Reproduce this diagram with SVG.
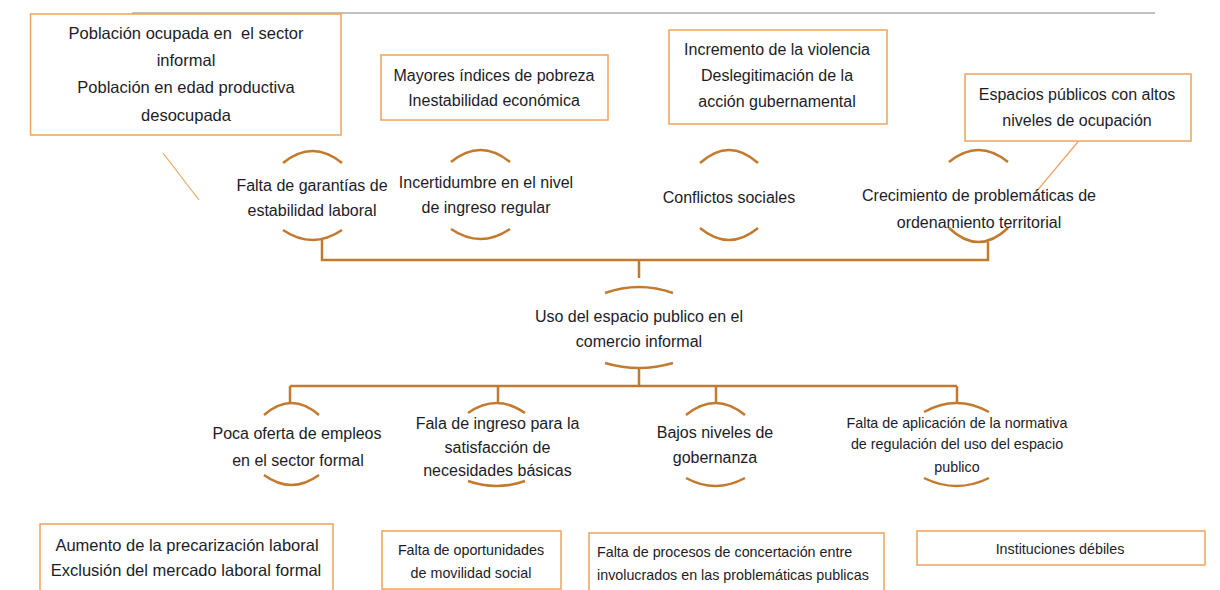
<svg xmlns="http://www.w3.org/2000/svg" width="1220" height="590" viewBox="0 0 1220 590">
<style>
text{font-family:"Liberation Sans",Arial,sans-serif;fill:#1c1c28;text-anchor:middle}
.m{font-size:16px}
.b{font-size:16.5px}
.s{font-size:14.3px}
.box{fill:#fff;stroke:#F0A35A;stroke-width:1.5}
.arc{fill:none;stroke:#C27A2E;stroke-width:2.5}
.con{fill:none;stroke:#C27A2E;stroke-width:2.5}
.thin{fill:none;stroke:#EFA462;stroke-width:1.2}
</style>
<rect width="1220" height="590" fill="#fff"/>
<line x1="132" y1="13" x2="1155" y2="13" stroke="#adadad" stroke-width="1.5"/>

<g id="connectors">
<polyline class="con" points="322,240 322,260 988,260 988,242"/>
<line class="con" x1="639" y1="260" x2="639" y2="278"/>
<line class="con" x1="639" y1="368" x2="639" y2="386"/>
<line class="con" x1="290" y1="386" x2="957" y2="386"/>
<line class="con" x1="290" y1="386" x2="290" y2="403"/>
<line class="con" x1="498" y1="386" x2="498" y2="403"/>
<line class="con" x1="716" y1="386" x2="716" y2="403"/>
<line class="con" x1="957" y1="386" x2="957" y2="403"/>
<line class="thin" x1="163" y1="153" x2="199" y2="200"/>
<line class="thin" x1="1082" y1="137" x2="1036" y2="192"/>
</g>

<g id="box-poblacion">
<rect class="box" x="30.5" y="14" width="310.5" height="121"/>
<text class="b" x="186" y="39" xml:space="preserve" style="white-space:pre">Población ocupada en  el sector</text>
<text class="b" x="186" y="66">informal</text>
<text class="b" x="186" y="93">Población en edad productiva</text>
<text class="b" x="186" y="121">desocupada</text>
</g>

<g id="box-pobreza">
<rect class="box" x="381" y="55" width="227" height="65"/>
<text class="m" x="494" y="81">Mayores índices de pobreza</text>
<text class="m" x="494" y="106">Inestabilidad económica</text>
</g>

<g id="box-violencia">
<rect class="box" x="669" y="30" width="218" height="94"/>
<text class="m" x="777" y="55">Incremento de la violencia</text>
<text class="m" x="777" y="81">Deslegitimación de la</text>
<text class="m" x="777" y="107">acción gubernamental</text>
</g>

<g id="box-espacios">
<rect class="box" x="965" y="74" width="226" height="67"/>
<text class="m" x="1077" y="100">Espacios públicos con altos</text>
<text class="m" x="1077" y="126">niveles de ocupación</text>
</g>

<g id="node-garantias">
<path class="arc" d="M283,163 Q312.5,139 342,163"/>
<path class="arc" d="M283,230 Q312.5,250 342,230"/>
<text class="m" x="312" y="191">Falta de garantías de</text>
<text class="m" x="312" y="216">estabilidad laboral</text>
</g>

<g id="node-incertidumbre">
<path class="arc" d="M451,162 Q480.5,138 510,162"/>
<path class="arc" d="M451,229 Q480.5,249 510,229"/>
<text class="m" x="486" y="188">Incertidumbre en el nivel</text>
<text class="m" x="486" y="213">de ingreso regular</text>
</g>

<g id="node-conflictos">
<path class="arc" d="M700,163 Q729,137 758,163"/>
<path class="arc" d="M700,228 Q729,252 758,228"/>
<text class="m" x="729" y="203">Conflictos sociales</text>
</g>

<g id="node-crecimiento">
<path class="arc" d="M949,162 Q978.5,138 1008,162"/>
<path class="arc" d="M949,228 Q978.5,256 1008,228"/>
<text class="m" x="979" y="201">Crecimiento de problemáticas de</text>
<text class="m" x="979" y="228">ordenamiento territorial</text>
</g>

<g id="node-uso">
<path class="arc" d="M605,293 Q639,281 673,293"/>
<path class="arc" d="M605,363 Q639,373 673,363"/>
<text class="m" x="639" y="322">Uso del espacio publico en el</text>
<text class="m" x="639" y="347">comercio informal</text>
</g>

<g id="node-oferta">
<path class="arc" d="M264,415 Q291.5,391 319,415"/>
<path class="arc" d="M264,475 Q291.5,495 319,475"/>
<text class="m" x="297" y="439">Poca oferta de empleos</text>
<text class="m" x="298" y="466">en el sector formal</text>
</g>

<g id="node-ingreso">
<path class="arc" d="M468,413 Q496.5,393 525,413"/>
<path class="arc" d="M468,481 Q496.5,491 525,481"/>
<text class="m" x="497.5" y="429">Fala de ingreso para la</text>
<text class="m" x="497.5" y="453">satisfacción de</text>
<text class="m" x="497.5" y="476">necesidades básicas</text>
</g>

<g id="node-gobernanza">
<path class="arc" d="M686,415 Q715.5,391 745,415"/>
<path class="arc" d="M686,478 Q715.5,494 745,478"/>
<text class="m" x="715" y="438">Bajos niveles de</text>
<text class="m" x="715" y="463">gobernanza</text>
</g>

<g id="node-normativa">
<path class="arc" d="M924,412 Q956.5,394 989,412"/>
<path class="arc" d="M924,478 Q956.5,494 989,478"/>
<text class="s" x="957" y="428">Falta de aplicación de la normativa</text>
<text class="s" x="957" y="449">de regulación del uso del espacio</text>
<text class="s" x="957" y="472">publico</text>
</g>

<g id="box-precarizacion">
<rect class="box" x="40" y="524" width="293" height="80"/>
<text class="b" x="187" y="551">Aumento de la precarización laboral</text>
<text class="b" x="186" y="576">Exclusión del mercado laboral formal</text>
</g>

<g id="box-movilidad">
<rect class="box" x="382" y="531" width="179" height="58"/>
<text class="s" x="471" y="555">Falta de oportunidades</text>
<text class="s" x="471" y="578">de movilidad social</text>
</g>

<g id="box-concertacion">
<rect class="box" x="589" y="533" width="295" height="70"/>
<text class="s" x="597" y="557" style="text-anchor:start">Falta de procesos de concertación entre</text>
<text class="s" x="597" y="580" style="text-anchor:start">involucrados en las problemáticas publicas</text>
</g>

<g id="box-instituciones">
<rect class="box" x="917" y="531" width="288" height="34"/>
<text class="s" x="1060" y="554">Instituciones débiles</text>
</g>
</svg>
